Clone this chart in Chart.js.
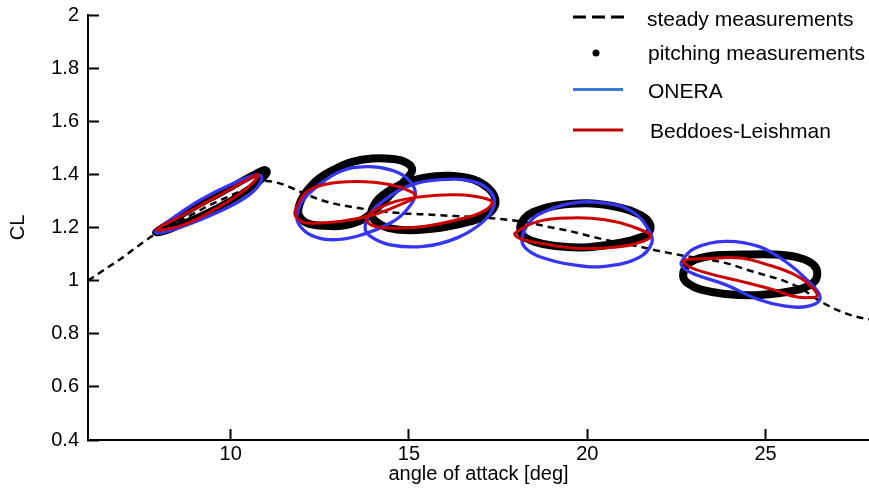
<!DOCTYPE html>
<html><head><meta charset="utf-8">
<script src="https://cdn.jsdelivr.net/npm/chart.js@4/dist/chart.umd.min.js"></script>
<style>html,body{margin:0;padding:0;background:#fff}#wrap{width:869px;height:490px}</style>
</head><body><div id="wrap"><canvas id="c" width="869" height="490"></canvas></div>
<script>
// ---------- data ----------
const xTickValues = [10, 15, 20, 25];
const yTickValues = [0.4, 0.6, 0.8, 1, 1.2, 1.4, 1.6, 1.8, 2];
const xTitle = 'angle of attack [deg]';
const yTitle = 'CL';
const seriesNames = ['steady measurements', 'pitching measurements', 'ONERA', 'Beddoes-Leishman'];

const steadyAlpha = [6,6.5,7,7.5,8,8.5,9,9.5,10,10.5,11,11.4,12,12.5,13,13.5,14,14.5,15,15.5,16,16.5,17,17.5,18,18.5,19,19.5,20,20.5,21,21.5,22,22.5,23,23.5,24,24.5,25,25.5,26,26.5,27,27.5,28];
const steadyCL    = [1.0,1.045,1.09,1.14,1.185,1.22,1.255,1.29,1.32,1.35,1.375,1.365,1.332,1.305,1.287,1.275,1.265,1.257,1.252,1.249,1.245,1.242,1.238,1.233,1.225,1.214,1.2,1.187,1.17,1.154,1.14,1.127,1.112,1.099,1.087,1.077,1.062,1.04,1.02,1.0,0.97,0.925,0.89,0.866,0.852];

// pitching measurement loops [alpha, CL] (closed loops)
const pitch1 = [[7.90,1.182],[8.30,1.218],[8.67,1.252],[9.15,1.290],[9.62,1.323],[10.07,1.356],[10.35,1.378],[10.70,1.403],[10.95,1.418],[11.03,1.408],[10.90,1.385],[10.75,1.368],[10.40,1.335],[10.07,1.306],[9.60,1.272],[9.15,1.243],[8.67,1.215],[8.20,1.188]];
const pitch2 = [[11.90,1.252],[11.98,1.304],[12.18,1.345],[12.46,1.383],[12.88,1.417],[13.41,1.447],[13.97,1.460],[14.53,1.458],[14.93,1.444],[15.09,1.417],[14.93,1.383],[14.53,1.330],[14.11,1.274],[13.69,1.229],[13.16,1.207],[12.57,1.207],[12.12,1.218]];
const pitch3 = [[13.94,1.251],[14.08,1.297],[14.36,1.331],[14.76,1.361],[15.40,1.387],[16.16,1.395],[16.80,1.381],[17.22,1.349],[17.42,1.308],[17.36,1.270],[17.08,1.240],[16.58,1.218],[15.88,1.199],[15.04,1.190],[14.42,1.199],[14.08,1.222]];
const pitch4 = [[18.12,1.199],[18.23,1.233],[18.49,1.259],[19.10,1.282],[20.03,1.291],[20.95,1.274],[21.48,1.248],[21.74,1.218],[21.74,1.184],[21.48,1.162],[20.95,1.143],[20.03,1.126],[19.10,1.130],[18.51,1.147],[18.20,1.169]];
const pitch5 = [[22.69,1.015],[22.77,1.053],[23.03,1.079],[23.50,1.094],[24.34,1.098],[25.27,1.098],[25.97,1.085],[26.34,1.060],[26.45,1.023],[26.31,0.989],[25.83,0.963],[24.85,0.946],[23.87,0.950],[23.17,0.967],[22.83,0.989]];

// ONERA model loops
const onera1 = [[7.89,1.183],[8.31,1.229],[9.15,1.304],[10.08,1.367],[10.74,1.398],[10.88,1.386],[10.64,1.336],[10.08,1.286],[9.15,1.229],[8.22,1.185]];
const onera2 = [[11.86,1.248],[12.04,1.304],[12.42,1.354],[13.07,1.411],[13.82,1.429],[14.48,1.417],[14.94,1.386],[15.18,1.330],[14.94,1.267],[14.48,1.217],[13.54,1.167],[12.79,1.154],[12.23,1.173],[11.92,1.211]];
const onera3 = [[13.77,1.198],[13.90,1.250],[14.20,1.292],[14.94,1.354],[15.88,1.380],[16.81,1.373],[17.28,1.336],[17.39,1.286],[17.09,1.223],[16.35,1.161],[15.41,1.129],[14.48,1.135],[13.92,1.167]];
const onera4 = [[18.17,1.155],[18.30,1.205],[18.63,1.249],[19.57,1.292],[20.50,1.292],[21.25,1.261],[21.72,1.192],[21.81,1.142],[21.44,1.086],[20.50,1.054],[19.57,1.060],[18.63,1.092],[18.25,1.125]];
const onera5 = [[22.65,1.073],[23.03,1.123],[23.87,1.148],[24.80,1.129],[25.55,1.073],[26.20,0.998],[26.53,0.935],[26.20,0.904],[25.55,0.904],[24.80,0.929],[23.87,0.985],[23.03,1.023],[22.70,1.048]];

// Beddoes-Leishman model loops
const bl1 = [[7.93,1.192],[8.68,1.248],[9.62,1.317],[10.55,1.386],[10.78,1.398],[10.46,1.348],[9.62,1.273],[8.68,1.210]];
const bl2 = [[11.81,1.262],[12.10,1.330],[12.60,1.361],[13.54,1.373],[14.48,1.361],[15.04,1.336],[15.18,1.317],[14.85,1.292],[14.00,1.248],[13.07,1.223],[12.14,1.217],[11.86,1.236]];
const bl3 = [[13.82,1.242],[14.48,1.292],[15.41,1.317],[16.35,1.323],[17.09,1.311],[17.33,1.292],[17.00,1.255],[16.35,1.229],[15.41,1.204],[14.48,1.198],[13.92,1.211]];
const bl4 = [[17.98,1.179],[18.63,1.223],[19.57,1.236],[20.50,1.229],[21.25,1.204],[21.77,1.167],[21.25,1.136],[20.50,1.123],[19.57,1.123],[18.63,1.142],[18.07,1.161]];
const bl5 = [[22.70,1.075],[23.39,1.083],[24.29,1.085],[25.13,1.057],[25.74,1.027],[26.19,0.989],[26.45,0.944],[26.16,0.936],[25.74,0.942],[25.21,0.966],[24.29,0.998],[23.35,1.029],[22.85,1.053]];

// ---------- styles ----------
const FONT = "'Liberation Sans', Arial, Helvetica, sans-serif";
Chart.defaults.font.family = FONT;
Chart.defaults.color = '#000';
const BLACK = '#000000', BLUE = '#3535f2', RED = '#cc0000';
const LEG_BLUE = '#3c78d8', LEG_RED = '#c00000';

const toPts = arr => arr.map(p => ({x: p[0], y: p[1]}));
const loopDs = (arr, color, width, order) => ({
  data: toPts(arr), showLine: true, borderColor: color, backgroundColor: color,
  borderWidth: width, pointRadius: 0, tension: 0.4, fill: false, order: order,
  closedLoop: true
});

const datasets = [];
[pitch1, pitch2, pitch3, pitch4, pitch5].forEach((l, i) => datasets.push(loopDs(l, BLACK, i === 0 ? 7 : 8, 4)));
datasets.push({
  data: steadyAlpha.map((a, i) => ({x: a, y: steadyCL[i]})), showLine: true,
  borderColor: BLACK, borderWidth: 2.5, borderDash: [7, 5], pointRadius: 0,
  cubicInterpolationMode: 'monotone', fill: false, order: 3
});
[onera1, onera2, onera3, onera4, onera5].forEach(l => datasets.push(loopDs(l, BLUE, 3.3, 2)));
[bl1, bl2, bl3, bl4, bl5].forEach(l => datasets.push(loopDs(l, RED, 3, 1)));

// make hysteresis loops closed, smooth curves (same mechanism the radar chart uses)
const closeLoops = {
  id: 'closeLoops',
  afterDatasetsUpdate(chart) {
    chart.data.datasets.forEach((ds, i) => {
      if (!ds.closedLoop) return;
      const line = chart.getDatasetMeta(i).dataset;
      if (!line) return;
      line._loop = true; line._fullLoop = true; line._pointsUpdated = false;
      delete line._segments; delete line._path;
      line.updateControlPoints(chart.chartArea, 'x');
    });
  }
};

// legend drawn in the top-right corner of the plot
const refLegend = {
  id: 'refLegend',
  afterDraw(chart) {
    const ctx = chart.ctx;
    ctx.save();
    const x0 = 573, x1 = 623;
    ctx.strokeStyle = BLACK; ctx.lineWidth = 3; ctx.setLineDash([13, 6]);
    ctx.beginPath(); ctx.moveTo(x0, 17); ctx.lineTo(x1 + 2, 17); ctx.stroke();
    ctx.setLineDash([]);
    ctx.fillStyle = BLACK; ctx.beginPath(); ctx.arc(596, 53, 3.5, 0, Math.PI * 2); ctx.fill();
    ctx.strokeStyle = LEG_BLUE; ctx.lineWidth = 3;
    ctx.beginPath(); ctx.moveTo(x0, 89.5); ctx.lineTo(x1, 89.5); ctx.stroke();
    ctx.strokeStyle = LEG_RED;
    ctx.beginPath(); ctx.moveTo(x0, 130); ctx.lineTo(x1, 130); ctx.stroke();
    ctx.font = '21px ' + FONT;
    ctx.fillStyle = '#000'; ctx.textBaseline = 'alphabetic'; ctx.textAlign = 'left';
    ctx.fillText(seriesNames[0], 647, 25.5);
    ctx.fillText(seriesNames[1], 648, 60);
    ctx.fillText(seriesNames[2], 648, 98);
    ctx.fillText(seriesNames[3], 650, 138);
    ctx.restore();
  }
};

new Chart(document.getElementById('c'), {
  type: 'scatter',
  data: { datasets },
  plugins: [closeLoops, refLegend],
  options: {
    responsive: false, animation: false, devicePixelRatio: 1,
    layout: { padding: { top: 15, right: 0, bottom: 0, left: 0 } },
    plugins: { legend: { display: false }, tooltip: { enabled: false } },
    scales: {
      x: {
        type: 'linear', position: 'bottom', min: 6, max: 27.9,
        afterBuildTicks: s => { s.ticks = xTickValues.map(v => ({value: v})); },
        afterFit: s => { s.height = 50; s.paddingLeft = 0; s.paddingRight = 0; },
        grid: { drawOnChartArea: false, drawTicks: true, tickLength: -11, tickWidth: 2, tickColor: BLACK },
        border: { display: true, color: BLACK, width: 2 },
        ticks: { color: BLACK, font: { size: 20 }, padding: 13, autoSkip: false, maxRotation: 0, callback: v => String(v) },
        title: { display: true, text: xTitle, color: BLACK, font: { size: 20 }, padding: { top: 0, bottom: 4 } }
      },
      y: {
        type: 'linear', position: 'left', min: 0.4, max: 2,
        afterBuildTicks: s => { s.ticks = yTickValues.map(v => ({value: v})); },
        afterFit: s => { s.width = 88; s.paddingTop = 0; s.paddingBottom = 0; },
        grid: { drawOnChartArea: false, drawTicks: true, tickLength: -11, tickWidth: 2, tickColor: BLACK },
        border: { display: true, color: BLACK, width: 2 },
        ticks: { color: BLACK, font: { size: 20 }, padding: 20, autoSkip: false, callback: v => String(v) },
        title: { display: true, text: yTitle, color: BLACK, font: { size: 20 }, padding: { top: 6, bottom: 0 } }
      }
    }
  }
});
</script></body></html>
